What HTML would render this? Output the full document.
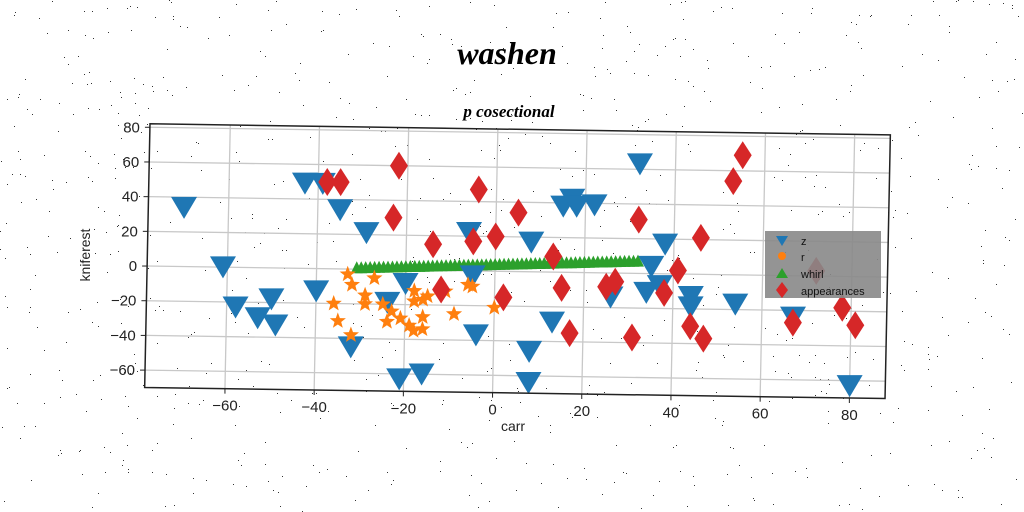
<!DOCTYPE html>
<html><head><meta charset="utf-8"><style>
html,body{margin:0;padding:0;background:#fff;}
svg{display:block;font-family:"Liberation Sans","DejaVu Sans",sans-serif;}
</style></head><body>
<svg id="chart" width="1024" height="512" viewBox="0 0 1024 512" xmlns="http://www.w3.org/2000/svg">
<rect width="1024" height="512" fill="#fff"/>
<g id="noise"></g>
<text x="507" y="64" text-anchor="middle" font-family="'URW Chancery L','Liberation Serif',serif" font-style="italic" font-weight="bold" font-size="32" fill="#000">washen</text>
<text x="509" y="117" text-anchor="middle" font-family="'URW Chancery L','Liberation Serif',serif" font-style="italic" font-weight="bold" font-size="17" fill="#000">p cosectional</text>
<g id="grid"></g>
<g id="marks"></g>
<g id="axes"></g>
<text x="513" y="431" text-anchor="middle" font-size="14" fill="#222">carr</text>
<text x="90" y="255" text-anchor="middle" font-size="14" fill="#222" transform="rotate(-90 90 255)">kniferest</text>
<g>
<rect x="765" y="231" width="116" height="67" fill="#888" fill-opacity="0.9"/>
<polygon points="776,236 788,236 782,246" fill="#1f77b4"/>
<text x="801" y="245" font-size="11" fill="#111">z</text>
<circle cx="782" cy="256" r="4" fill="#ff7f0e"/>
<text x="801" y="261" font-size="11" fill="#111">r</text>
<polygon points="776,278 788,278 782,268" fill="#2ca02c"/>
<text x="801" y="278" font-size="11" fill="#111">whirl</text>
<polygon points="782,282 788,290 782,298 776,290" fill="#d62728"/>
<text x="801" y="295" font-size="11" fill="#111">appearances</text>
</g>
</svg>
<script>
const xTicks=[-60,-40,-20,0,20,40,60,80];
const yTicks=[-60,-40,-20,0,20,40,60,80];
const zX=[-70,-61,-58,-53,-50,-49,-43,-39,-40,-35,-32,-29,-24,-21,-20,-16,-6,-5,-4,8,8,8,13,15,17,18,22,26,32,34,35,37,38,44,44,54,67,80];
const zY=[35,1,-22,-28,-17,-32,50,50,-12,35,-44,22,-18,-62,-7,-59,23,-2,-36,18,-45,-63,-28,39,43,39,40,-13,64,-10,5,-6,18,-12,-18,-16,-23,-62];
const rX=[-33,-32,-27,-29,-29,-36,-35,-32,-25,-23,-24,-21,-18,-18,-19,-18,-16,-16,-15,-16,-11,-9,-6,-5,0];
const rY=[-3,-9,-5,-15,-20,-20,-30,-38,-20,-24,-30,-28,-12,-18,-32,-35,-27,-17,-15,-34,-12,-25,-8,-9,-21];
const wX=[-31,-30,-29,-28,-27,-26,-25,-24,-23,-22,-21,-20,-19,-18,-17,-16,-15,-14,-13,-12,-11,-10,-9,-8,-7,-6,-5,-4,-3,-2,-1,0,1,2,3,4,5,6,7,8,9,10,11,12,13,14,15,16,17,18,19,20,21,22,23,24,25,26,27,28,29,30,31,32];
const wY=[0.5,0.6,0.7,0.8,0.9,1.0,1.1,1.2,1.3,1.4,1.5,1.6,1.7,1.8,1.9,2.0,2.1,2.2,2.3,2.4,2.5,2.6,2.7,2.8,2.9,3.0,3.1,3.2,3.3,3.4,3.5,3.6,3.7,3.8,3.9,4.0,4.1,4.2,4.3,4.4,4.5,4.6,4.7,4.8,4.9,5.0,5.1,5.2,5.3,5.4,5.5,5.6,5.7,5.8,5.9,6.0,6.1,6.2,6.3,6.4,6.5,6.6,6.7,6.8];
const aX=[-38,-35,-22,-23,-14,-12,-4,-5,0,2,5,13,15,17,32,25,27,41,38,46,44,47,31,53,55,67,78,81,72];
const aY=[50,50,60,30,15,-11,47,17,20,-15,34,9,-9,-35,31,-8,-5,2,-11,21,-30,-37,-37,54,69,-27,-18,-28,3];

const NS='http://www.w3.org/2000/svg';
function px(vx,vy){return 495+4.46*vx+0.035*vy;}
function py(vx,vy){const X=px(vx,vy);return 266-1.735*vy+0.015*(X-145);}
function mk(tag,attrs,parent){const e=document.createElementNS(NS,tag);for(const k in attrs)e.setAttribute(k,attrs[k]);parent.appendChild(e);return e;}
const grid=document.getElementById('grid'),marks=document.getElementById('marks'),axes=document.getElementById('axes');
const X0=-78,X1=88,Y0=-70,Y1=82;
xTicks.forEach(t=>{
  const l=mk('line',{x1:px(t,Y0),y1:py(t,Y0),x2:px(t,Y1),y2:py(t,Y1),stroke:'#c8c8c8','stroke-width':1.3},grid);
  
  
  const tx=mk('text',{x:px(t,Y0),y:py(t,Y0)+22,'text-anchor':'middle','font-size':15,fill:'#222'},axes);
  tx.textContent=t<0?'\u2212'+(-t):String(t);
  
  
  const tk=mk('line',{x1:px(t,Y0),y1:py(t,Y0),x2:px(t,Y0),y2:py(t,Y0)+5,stroke:'#222'},axes);
  
  
});
yTicks.forEach(t=>{
  const l=mk('line',{x1:px(X0,t),y1:py(X0,t),x2:px(X1,t),y2:py(X1,t),stroke:'#c8c8c8','stroke-width':1.3},grid);
  
  
  const tx=mk('text',{x:px(X0,t)-10,y:py(X0,t)+5,'text-anchor':'end','font-size':15,fill:'#222'},axes);
  tx.textContent=t<0?'\u2212'+(-t):String(t);
  
  
  const tk=mk('line',{x1:px(X0,t)-5,y1:py(X0,t),x2:px(X0,t),y2:py(X0,t),stroke:'#222'},axes);
  
  
});
const fr=mk('polygon',{points:[[X0,Y0],[X1,Y0],[X1,Y1],[X0,Y1]].map(p=>px(p[0],p[1])+','+py(p[0],p[1])).join(' '),fill:'none',stroke:'#222','stroke-width':1.5},axes);



wX.forEach((v,i)=>{const x=px(v,wY[i]),y=py(v,wY[i]);
  const e=mk('polygon',{points:`${x-6},${y+5} ${x+6},${y+5} ${x},${y-7}`,fill:'#2ca02c'},marks);
  
  });
zX.forEach((v,i)=>{const x=px(v,zY[i]),y=py(v,zY[i]);
  const e=mk('polygon',{points:`${x-13},${y-9} ${x+13},${y-9} ${x},${y+13}`,fill:'#1f77b4'},marks);
  
  });
function star(x,y,R){let p=[];for(let k=0;k<10;k++){const r=k%2?R*0.42:R;const a=-Math.PI/2+k*Math.PI/5;p.push((x+r*Math.cos(a)).toFixed(1)+','+(y+r*Math.sin(a)).toFixed(1));}return p.join(' ');}
rX.forEach((v,i)=>{const x=px(v,rY[i]),y=py(v,rY[i]);
  const e=mk('polygon',{points:star(x,y,8.5),fill:'#ff7f0e'},marks);
  
  });
aX.forEach((v,i)=>{const x=px(v,aY[i]),y=py(v,aY[i]);
  const e=mk('polygon',{points:`${x},${y-14} ${x+9},${y} ${x},${y+14} ${x-9},${y}`,fill:'#d62728'},marks);
  
  });
const noise=document.getElementById('noise');let s=7;
function rnd(){s=(s*9301+49297)%233280;return s/233280;}
for(let i=0;i<900;i++){mk('rect',{x:(rnd()*1024).toFixed(0),y:(rnd()*512).toFixed(0),width:1,height:1,fill:'#333'},noise);}
</script>
</body></html>
